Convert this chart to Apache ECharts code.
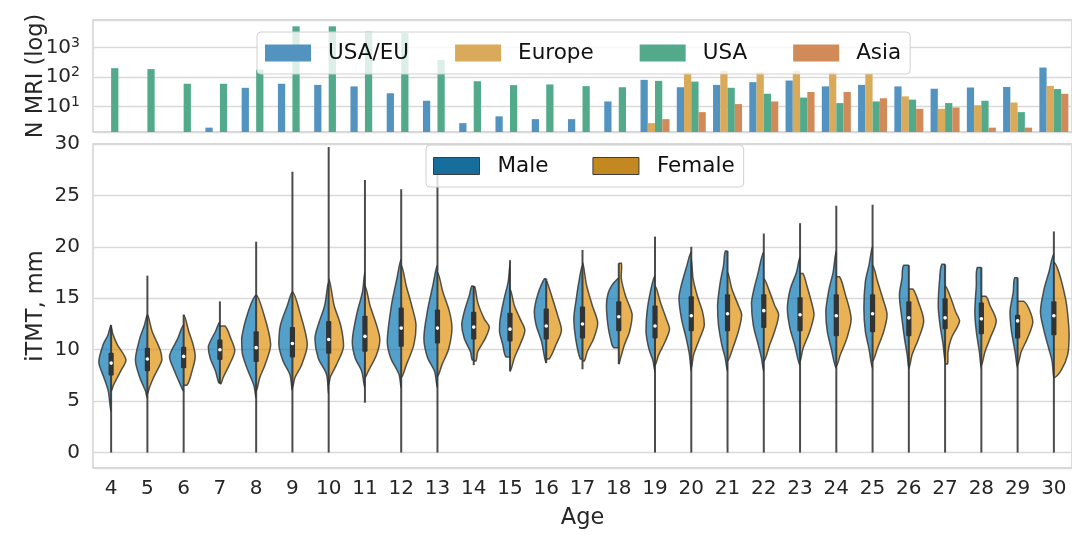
<!DOCTYPE html>
<html>
<head>
<meta charset="utf-8">
<script src="https://cdn.jsdelivr.net/npm/echarts@6/dist/echarts.min.js"></script>
<style>html,body{margin:0;padding:0;background:#fff}#c{width:1072px;height:535px}</style>
</head>
<body>
<div id="c"></div>
<script>
// ---------- DATA ----------
const ages = ['4','5','6','7','8','9','10','11','12','13','14','15','16','17','18','19','20','21','22','23','24','25','26','27','28','29','30'];

// N MRI per age and cohort (null = no bar)
const nUsaEu  = [null,null,null,1.9,43,59,54,48,28,15.6,2.7,4.6,3.7,3.7,14.8,80,45,54,67,76,48,54,48,40,44,46,210];
const nEurope = [null,null,null,null,null,null,null,null,null,null,null,null,null,null,null,2.7,141,162,146,162,146,134,22,8.3,11,13.6,50];
const nUsa    = [200,186,59,59,180,5300,5300,3500,3100,380,72,53,56,49,45,74,70,43,27,20,13,14.8,17,13,15.6,6.4,39];
const nAsia   = [null,null,null,null,null,null,null,null,null,null,null,null,null,null,null,3.7,6.4,12,14.8,31,31,19,8.3,9.2,1.9,1.9,27];

// violin outlines: [iTMT value, half-width as fraction of category band]
const maleShape = [
 [[4.0,0],[6.0,0.08],[7.3,0.2],[8.8,0.34],[10.5,0.22],[11.4,0.09],[12.4,0]],
 [[5.3,0],[6.0,0.055],[7.3,0.21],[9.0,0.33],[11.1,0.21],[12.4,0.08],[13.4,0]],
 [[6.0,0],[6.6,0.09],[7.9,0.25],[9.35,0.39],[11.1,0.16],[12.4,0]],
 [[6.8,0.03],[7.9,0.12],[9.2,0.27],[10.3,0.32],[11.8,0.12],[12.7,0]],
 [[5.3,0],[6.5,0.06],[7.9,0.22],[9.6,0.38],[11.1,0.40],[13.7,0.22],[15.3,0]],
 [[6.0,0],[7.6,0.07],[8.9,0.26],[10.5,0.375],[12.4,0.33],[14.3,0.14],[15.6,0]],
 [[5.7,0],[7.6,0.06],[9.2,0.29],[11.1,0.38],[12.4,0.29],[14.3,0.11],[16.6,0]],
 [[6.3,0],[7.9,0.09],[9.2,0.27],[10.8,0.35],[13.4,0.23],[15.6,0.07],[17.5,0]],
 [[6.3,0],[7.6,0.06],[9.2,0.29],[10.8,0.385],[14.3,0.27],[16.9,0.12],[18.8,0]],
 [[6.3,0],[7.9,0.08],[9.2,0.27],[11.1,0.375],[13.7,0.28],[16.2,0.13],[18.2,0]],
 [[9.0,0.04],[9.8,0.09],[11.1,0.26],[12.4,0.33],[13.7,0.26],[15.3,0.12],[16.2,0.05]],
 [[9.3,0.11],[10.5,0.2],[11.8,0.29],[13.0,0.27],[15.0,0.16],[16.6,0.05],[18.2,0]],
 [[8.7,0],[10.8,0.13],[12.4,0.28],[13.7,0.33],[15.3,0.24],[16.9,0.05]],
 [[9.1,0.06],[11.1,0.19],[13.0,0.24],[15.0,0.17],[16.6,0.1],[18.2,0]],
 [[10.2,0.14],[11.1,0.23],[12.4,0.3],[14.3,0.34],[15.4,0.3],[16.2,0.2],[16.9,0.03]],
 [[7.9,0],[8.9,0.055],[10.1,0.17],[11.8,0.25],[13.7,0.22],[15.6,0.13],[17.2,0]],
 [[7.9,0],[9.5,0.05],[11.1,0.14],[13.0,0.27],[15.0,0.34],[16.2,0.28],[18.2,0.12],[19.5,0]],
 [[7.9,0],[9.2,0.065],[10.5,0.16],[12.4,0.25],[14.3,0.275],[16.6,0.2],[18.2,0.11],[19.6,0.06]],
 [[7.9,0],[9.2,0.065],[10.5,0.155],[12.4,0.29],[14.6,0.34],[17.5,0.155],[19.5,0]],
 [[8.5,0],[10.5,0.15],[12.1,0.28],[14.0,0.35],[15.9,0.27],[17.5,0.1],[19.0,0]],
 [[8.2,0],[10.1,0.14],[11.8,0.25],[13.7,0.29],[15.9,0.2],[17.5,0.09],[19.6,0]],
 [[8.2,0],[10.1,0.1],[11.8,0.2],[14.0,0.24],[16.6,0.2],[18.2,0.1],[20.0,0]],
 [[8.2,0],[9.5,0.045],[11.1,0.12],[13.0,0.19],[15.3,0.26],[16.9,0.19],[18.2,0.14]],
 [[8.9,0],[10.5,0.055],[12.4,0.14],[14.3,0.19],[16.9,0.15],[18.3,0.09]],
 [[8.2,0],[9.8,0.055],[11.8,0.14],[13.7,0.18],[16.2,0.14],[18.0,0.11]],
 [[8.2,0],[9.8,0.07],[11.8,0.17],[13.7,0.21],[15.6,0.12],[17.0,0.08]],
 [[7.3,0],[8.9,0.05],[10.1,0.14],[11.8,0.27],[13.7,0.37],[15.9,0.27],[17.5,0.14],[19.3,0]]
];
const femaleShape = [
 [[6.0,0],[6.6,0.07],[7.9,0.26],[9.0,0.41],[10.5,0.17],[11.5,0.05],[12.2,0]],
 [[5.7,0],[6.3,0.055],[7.3,0.17],[9.0,0.40],[9.9,0.36],[11.8,0.13],[13.4,0]],
 [[6.55,0.09],[7.9,0.23],[9.35,0.32],[10.5,0.26],[11.8,0.14],[13.4,0]],
 [[6.7,0.03],[7.3,0.09],[8.6,0.27],[9.9,0.41],[11.1,0.3],[12.3,0.14]],
 [[6.0,0],[7.3,0.1],[8.5,0.24],[10.5,0.40],[13.7,0.19],[15.3,0]],
 [[6.3,0],[7.3,0.07],[8.5,0.25],[10.5,0.41],[13.7,0.2],[15.6,0]],
 [[6.6,0],[7.4,0.05],[8.5,0.21],[10.3,0.41],[12.4,0.33],[14.3,0.15],[16.9,0]],
 [[7.3,0],[7.9,0.09],[9.5,0.32],[11.0,0.41],[12.4,0.32],[14.3,0.14],[16.2,0]],
 [[7.3,0],[8.5,0.14],[10.5,0.35],[12.4,0.41],[14.3,0.29],[16.2,0.14],[18.2,0]],
 [[7.4,0],[8.5,0.12],[10.1,0.31],[12.1,0.40],[13.7,0.33],[15.6,0.15],[17.5,0]],
 [[8.9,0.06],[9.8,0.11],[11.1,0.32],[12.2,0.43],[13.0,0.29],[14.6,0.11],[16.1,0.03]],
 [[7.9,0],[9.2,0.12],[10.5,0.28],[11.9,0.41],[13.0,0.28],[14.3,0.12],[15.9,0]],
 [[9.1,0.08],[10.5,0.27],[11.9,0.42],[13.4,0.31],[15.0,0.17],[16.6,0.02]],
 [[8.9,0.05],[9.8,0.13],[11.1,0.31],[12.6,0.42],[14.3,0.27],[16.3,0.11],[18.5,0]],
 [[8.6,0],[9.2,0.05],[10.5,0.16],[11.8,0.3],[13.4,0.37],[15.2,0.19],[16.9,0.07],[18.4,0.07]],
 [[8.5,0],[9.5,0.1],[10.8,0.28],[12.0,0.40],[13.0,0.31],[14.6,0.15],[16.2,0]],
 [[8.2,0],[9.5,0.065],[10.8,0.2],[12.4,0.36],[13.7,0.31],[15.3,0.16],[16.9,0.05],[18.8,0]],
 [[8.9,0],[10.1,0.14],[11.8,0.3],[13.4,0.39],[14.3,0.3],[15.9,0.12],[17.5,0]],
 [[8.9,0],[10.5,0.165],[11.8,0.3],[13.4,0.41],[14.3,0.3],[15.6,0.165],[16.9,0]],
 [[8.9,0],[10.1,0.08],[11.8,0.27],[13.4,0.385],[14.3,0.34],[16.2,0.19],[17.4,0.08]],
 [[8.4,0],[9.5,0.11],[11.1,0.29],[13.0,0.41],[15.6,0.23],[17.1,0.09]],
 [[8.9,0],[10.1,0.13],[11.8,0.31],[13.4,0.40],[15.0,0.28],[16.6,0.14],[18.2,0]],
 [[8.2,0],[9.5,0.09],[11.1,0.27],[12.8,0.41],[14.6,0.27],[15.9,0.11]],
 [[8.6,0.065],[9.8,0.08],[11.1,0.17],[12.1,0.32],[12.8,0.40],[13.7,0.29],[15.0,0.16],[16.2,0]],
 [[8.5,0],[9.8,0.1],[11.1,0.24],[12.8,0.41],[14.3,0.24],[15.2,0.12]],
 [[8.5,0],[9.8,0.1],[11.1,0.27],[12.7,0.42],[14.0,0.31],[14.7,0.17]],
 [[7.3,0],[8.0,0.2],[9.5,0.38],[11.5,0.42],[13.5,0.38],[15.0,0.32],[17.5,0.14],[18.5,0]]
];
// inner box: [q1, median, q3]
const boxStats = [
 [7.5,8.7,9.7],[7.9,9.1,10.2],[8.2,9.35,10.3],[9.0,10.0,11.0],[8.8,10.2,11.8],[9.25,10.6,12.2],
 [9.6,11.0,12.8],[9.8,11.3,13.3],[10.3,12.1,14.1],[10.6,12.1,13.9],[11.0,12.2,13.7],[10.8,12.0,13.6],
 [11.0,12.3,14.0],[11.1,12.5,14.2],[11.8,13.2,14.7],[11.1,12.3,14.3],[11.8,13.3,15.2],[11.8,13.5,15.4],
 [12.1,13.8,15.4],[11.8,13.4,15.1],[11.3,13.3,15.4],[11.7,13.5,15.4],[11.3,13.1,14.7],[12.0,13.1,15.0],
 [11.5,13.0,14.6],[11.1,12.8,13.4],[11.4,13.3,14.7]
];
// full extent of the thin tail line: [min, max]
const tailRange = [
 [0,12.4],[0,17.2],[0,13.4],[6.7,14.7],[0,20.5],[0,27.3],[0,29.7],[4.85,26.5],[0,25.6],[0,27],
 [8.5,16.2],[7.9,18.7],[8.7,16.9],[8.1,19.7],[8.6,18.4],[0,21.0],[0,20.0],[0,19.6],[0,21.3],[0,22.3],
 [0,24.0],[0,24.1],[0,18.2],[0,18.3],[0,18.0],[0,17.0],[0,21.5]
];

// ---------- STYLE ----------
const FONT = 'DejaVu Sans';
const TXT = '#262626';
const GRIDC = '#d9d9d9';
const maleFill = 'rgba(1,115,178,0.68)';
const femaleFill = 'rgba(222,143,5,0.68)';
const edge = 'rgba(55,55,55,0.85)';

const dash = a => a.map(v => v == null ? '-' : v);

function renderViolin(params, api) {
  const i = params.dataIndex;
  const cat = api.value(0);
  const cx = api.coord([cat, 0])[0];
  const band = api.size([1, 0])[0];
  const y = v => api.coord([cat, v])[1];
  function half(profile, side, fill) {
    const left = profile.map(p => [cx - p[1] * band, y(p[0])]);
    const right = profile.filter(p => p[1] > 0).slice().reverse().map(p => [cx + p[1] * band, y(p[0])]);
    const mid = [cx, (left[0][1] + left[left.length - 1][1]) / 2];
    return {
      type: 'polygon',
      shape: { points: left.concat(right), smooth: 0.3, smoothConstraint: [mid, mid] },
      style: { fill: fill, stroke: edge, lineWidth: 1.5 },
      clipPath: { type: 'rect', shape: side < 0 ? { x: cx - band, y: 0, width: band, height: 1000 } : { x: cx, y: 0, width: band, height: 1000 } }
    };
  }
  const b = boxStats[i], t = tailRange[i];
  return {
    type: 'group',
    children: [
      half(maleShape[i], -1, maleFill),
      half(femaleShape[i], 1, femaleFill),
      { type: 'line', shape: { x1: cx, y1: y(t[0]), x2: cx, y2: y(t[1]) }, style: { stroke: 'rgba(45,45,45,0.85)', lineWidth: 2 } },
      { type: 'rect', shape: { x: cx - 2.6, y: y(b[2]), width: 5.2, height: y(b[0]) - y(b[2]), r: 1 }, style: { fill: '#333333' } },
      { type: 'circle', shape: { cx: cx, cy: y(b[1]), r: 1.8 }, style: { fill: '#ffffff' } }
    ]
  };
}

const barColors = { 'USA/EU': '#5393c0', 'Europe': '#d8aa5a', 'USA': '#52aa8b', 'Asia': '#d18b58' };
function barSeries(name, arr) {
  return { name: name, type: 'bar', xAxisIndex: 0, yAxisIndex: 0, data: dash(arr),
    barGap: '0%', barCategoryGap: '20%', itemStyle: { color: barColors[name] }, silent: true, animation: false };
}

const option = {
  animation: false,
  textStyle: { fontFamily: FONT },
  grid: [
    { left: 93, top: 20, width: 983, height: 112, show: true, borderColor: '#cccccc', borderWidth: 1.3, backgroundColor: 'transparent' },
    { left: 93, top: 144, width: 983, height: 327, show: true, borderColor: '#cccccc', borderWidth: 1.3, backgroundColor: 'transparent' }
  ],
  legend: [
    { data: ['USA/EU', 'Europe', 'USA', 'Asia'], left: 257, top: 32, orient: 'horizontal', selectedMode: false,
      icon: 'rect', itemWidth: 46, itemHeight: 17, itemGap: 46, padding: [10, 9, 10, 8],
      backgroundColor: 'rgba(255,255,255,0.8)', borderColor: '#d0d0d0', borderWidth: 1, borderRadius: 4,
      textStyle: { fontSize: 21.5, color: '#111', fontFamily: FONT, lineHeight: 18, padding: [0, 0, 0, 12] } },
    { data: ['Male', 'Female'], left: 426, top: 145, orient: 'horizontal', selectedMode: false,
      icon: 'rect', itemWidth: 46, itemHeight: 17, itemGap: 44, padding: [10, 9, 10, 7],
      itemStyle: { borderColor: '#3d3d3d', borderWidth: 1 },
      backgroundColor: 'rgba(255,255,255,0.8)', borderColor: '#d0d0d0', borderWidth: 1, borderRadius: 4,
      textStyle: { fontSize: 21.5, color: '#111', fontFamily: FONT, lineHeight: 18, padding: [0, 0, 0, 13] } }
  ],
  xAxis: [
    { gridIndex: 0, type: 'category', data: ages, axisLabel: { show: false }, axisTick: { show: false },
      axisLine: { show: false }, splitLine: { show: false } },
    { gridIndex: 1, type: 'category', data: ages, axisTick: { show: false }, axisLine: { show: false },
      axisLabel: { interval: 0, fontSize: 20, color: TXT, margin: 11, fontFamily: FONT },
      name: 'Age', nameLocation: 'middle', nameGap: 39,
      nameTextStyle: { fontSize: 22.5, color: TXT, fontFamily: FONT } }
  ],
  yAxis: [
    { gridIndex: 0, type: 'log', logBase: 10, min: 1.35, max: 8700,
      axisLine: { show: false }, axisTick: { show: false },
      splitLine: { show: true, lineStyle: { color: GRIDC, width: 1.3 } },
      axisLabel: { margin: 13, color: TXT, showMinLabel: false, showMaxLabel: false,
        formatter: v => '{b|10}{s|' + Math.round(Math.log10(v)) + '}',
        rich: { b: { fontSize: 20, color: TXT, fontFamily: FONT }, s: { fontSize: 14, color: TXT, fontFamily: FONT, padding: [0, 0, 9, 0] } } },
      name: 'N MRI (log)', nameLocation: 'middle', nameGap: 45, nameRotate: 90, nameMoveOverlap: false,
      nameTextStyle: { fontSize: 22.5, color: TXT, fontFamily: FONT } },
    { gridIndex: 1, type: 'value', min: -1.5, max: 30,
      axisLine: { show: false }, axisTick: { show: false },
      splitLine: { show: true, lineStyle: { color: GRIDC, width: 1.3 } },
      axisLabel: { margin: 13, fontSize: 20, color: TXT, fontFamily: FONT, showMinLabel: false },
      name: 'iTMT, mm', nameLocation: 'middle', nameGap: 45, nameRotate: 90, nameMoveOverlap: false,
      nameTextStyle: { fontSize: 22.5, color: TXT, fontFamily: FONT } }
  ],
  series: [
    barSeries('USA/EU', nUsaEu),
    barSeries('Europe', nEurope),
    barSeries('USA', nUsa),
    barSeries('Asia', nAsia),
    { name: 'violins', type: 'custom', xAxisIndex: 1, yAxisIndex: 1, renderItem: renderViolin,
      data: ages.map((a, i) => [i]), encode: { x: 0 }, silent: true, z: 3 },
    { name: 'Male', type: 'bar', xAxisIndex: 1, yAxisIndex: 1, data: [], itemStyle: { color: '#176d9c' } },
    { name: 'Female', type: 'bar', xAxisIndex: 1, yAxisIndex: 1, data: [], itemStyle: { color: '#c38820' } }
  ]
};

const chart = echarts.init(document.getElementById('c'), null, { renderer: 'canvas' });
chart.setOption(option);
</script>
</body>
</html>
